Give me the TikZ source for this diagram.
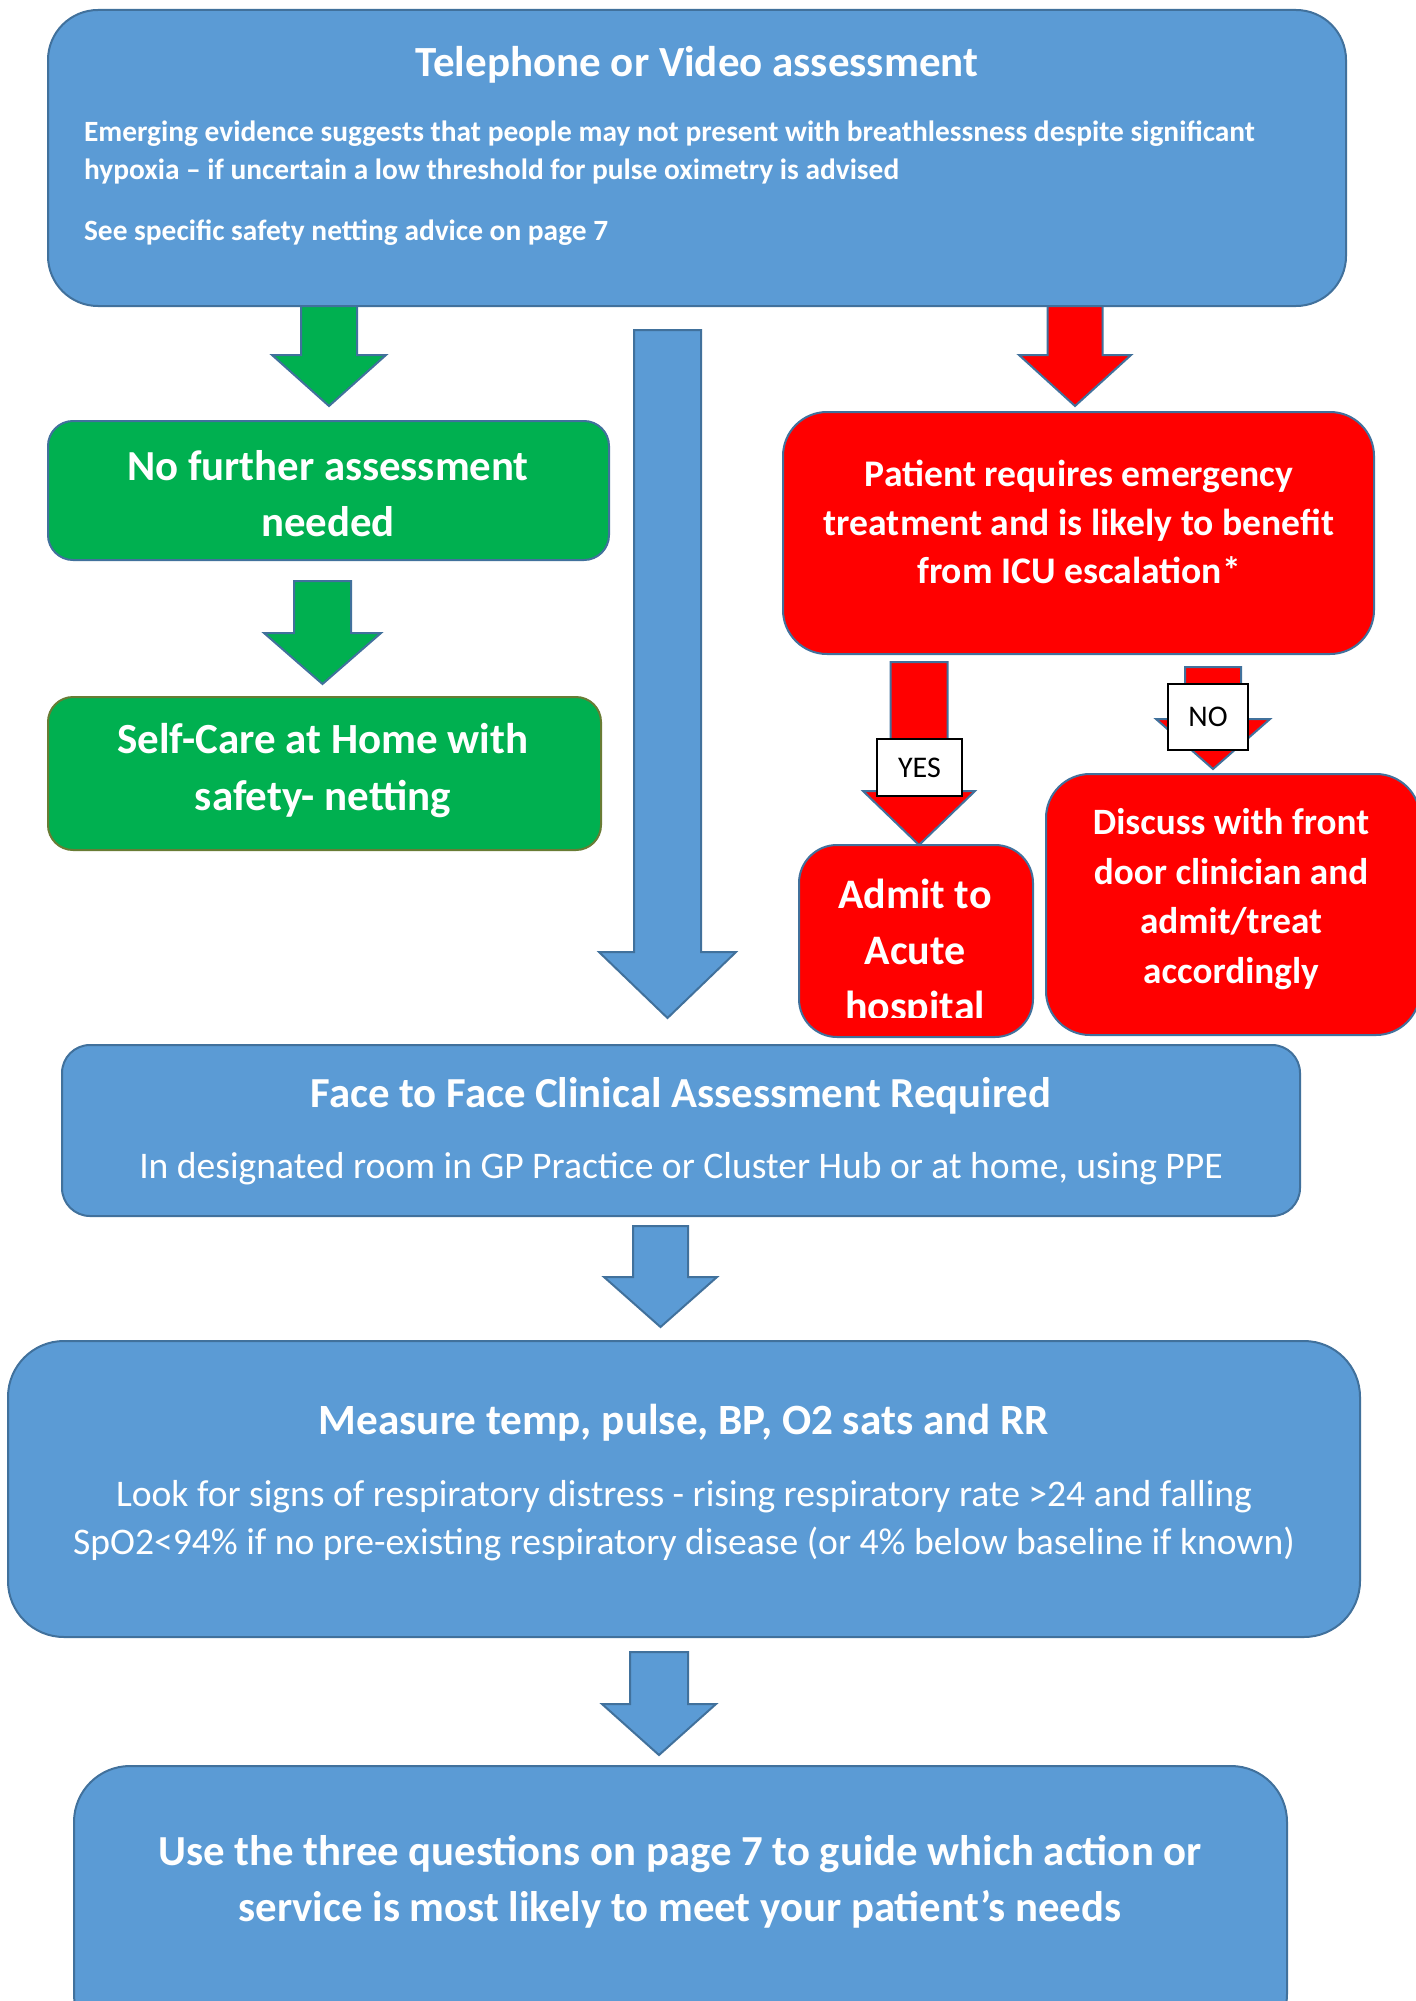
\documentclass[tikz,border=0pt]{standalone}
\usepackage{fontspec}
\setmainfont{Carlito}
\usetikzlibrary{positioning}
\definecolor{BoxBlue}{RGB}{91,155,213}
\definecolor{EdgeBlue}{RGB}{65,113,156}
\definecolor{BoxGreen}{RGB}{0,176,80}
\definecolor{BoxRed}{RGB}{255,0,0}
\definecolor{EdgeOlive}{RGB}{104,124,52}

\begin{document}
\begin{tikzpicture}[x=0.5pt,y=-0.5pt, every node/.style={align=center,text=white},
    box/.style={draw=EdgeBlue,line width=1pt,inner sep=0pt},
    barrow/.style={draw=EdgeBlue,line width=1pt,line join=miter},
    tag/.style={draw=black,fill=white,text=black,line width=0.7pt,inner sep=0pt,font=\fontsize{15}{18}\selectfont}]
  \clip (0,0) rectangle (1416,2001);
  \fill[white] (0,0) rectangle (1416,2001);

  % boxes
  \node[box,fill=BoxBlue,minimum width=649pt,minimum height=148pt,rounded corners=25pt] (tele) at (697,158) {};
  \node[box,fill=BoxGreen,minimum width=280.5pt,minimum height=69.5pt,rounded corners=12.5pt] (nofurther) at (328.5,490.5) {};
  \node[box,draw=EdgeOlive,fill=BoxGreen,minimum width=276.5pt,minimum height=76.5pt,rounded corners=12.5pt] (selfcare) at (324.5,773.5) {};
  \node[box,fill=BoxRed,minimum width=295.5pt,minimum height=121pt,rounded corners=22pt] (emerg) at (1078.5,533) {};
  \node[box,fill=BoxRed,minimum width=117pt,minimum height=96pt,rounded corners=19pt] (admit) at (916,941) {};
  \node[box,fill=BoxRed,minimum width=187pt,minimum height=130.5pt,rounded corners=22pt] (discuss) at (1233,904.5) {};
  \node[box,fill=BoxBlue,minimum width=619pt,minimum height=85.5pt,rounded corners=14pt] (facebox) at (681,1130.5) {};
  \node[box,fill=BoxBlue,minimum width=676pt,minimum height=148pt,rounded corners=28pt] (measure) at (684,1489) {};
  \node[box,fill=BoxBlue,minimum width=606.5pt,minimum height=142pt,rounded corners=28pt] (useq) at (680.5,1908) {};

  % texts
  \node[font=\fontsize{21.5}{25}\selectfont\bfseries] (teleT) at (697,65) {Telephone or Video assessment};
  \node[anchor=west,align=left,font=\fontsize{14.7}{19}\selectfont\bfseries] (teleB) at (77,152)
    {Emerging evidence suggests that people may not present with breathlessness despite significant\\
     hypoxia -- if uncertain a low threshold for pulse oximetry is advised};
  \node[anchor=west,font=\fontsize{14.7}{19}\selectfont\bfseries] (teleC) at (77,233) {See specific safety netting advice on page 7};
  \node[font=\fontsize{21.4}{28}\selectfont\bfseries] (nofurtherT) at (328,494) {No further assessment\\needed};
  \node[font=\fontsize{21.5}{28.5}\selectfont\bfseries] (selfcareT) at (323,770.5) {Self-Care at Home with\\safety- netting};
  \node[font=\fontsize{18.8}{24.2}\selectfont\bfseries] (emergT) at (1079,522)
    {Patient requires emergency\\treatment and is likely to benefit\\from ICU escalation*};
  \begin{scope}
    \clip (790,840) rectangle (1040,1017);
    \node[font=\fontsize{21}{28}\selectfont\bfseries] (admitT) at (915,953) {Admit to\\Acute\\hospital};
  \end{scope}
  \node[font=\fontsize{18.6}{24.7}\selectfont\bfseries] (discussT) at (1231,899)
    {Discuss with front\\door clinician and\\admit/treat\\accordingly};
  \node[font=\fontsize{21.4}{25}\selectfont\bfseries] (faceT) at (681,1096) {Face to Face Clinical Assessment Required};
  \node[font=\fontsize{18.8}{22}\selectfont] (faceS) at (681,1169) {In designated room in GP Practice or Cluster Hub or at home, using PPE};
  \node[font=\fontsize{21.6}{25}\selectfont\bfseries] (measureT) at (684,1423) {Measure temp, pulse, BP, O2 sats and RR};
  \node[font=\fontsize{18.8}{24}\selectfont] (measureS) at (684,1521)
    {Look for signs of respiratory distress - rising respiratory rate >24 and falling\\
     SpO2<94\% if no pre-existing respiratory disease (or 4\% below baseline if known)};
  \node[font=\fontsize{21.4}{28}\selectfont\bfseries] (useqT) at (680,1882)
    {Use the three questions on page 7 to guide which action or\\service is most likely to meet your patient’s needs};

  % block arrows
  \draw[barrow,fill=BoxGreen] (301,306) -- (357,306) -- (357,355) -- (386,355) -- (329,406) -- (272,355) -- (301,355) -- cycle;
  \draw[barrow,fill=BoxGreen] (294,581) -- (351,581) -- (351,633) -- (381,633) -- (322.5,684) -- (264,633) -- (294,633) -- cycle;
  \draw[barrow,fill=BoxBlue] (634,330) -- (701,330) -- (701,952) -- (736,952) -- (667.5,1018) -- (599,952) -- (634,952) -- cycle;
  \draw[barrow,fill=BoxRed] (1047.5,306) -- (1102.5,306) -- (1102.5,355) -- (1131,355) -- (1075,406) -- (1019,355) -- (1047.5,355) -- cycle;
  \draw[barrow,fill=BoxRed] (890.5,662) -- (947.5,662) -- (947.5,791) -- (975,791) -- (919,845) -- (863,791) -- (890.5,791) -- cycle;
  \draw[barrow,fill=BoxRed] (1185,667) -- (1241,667) -- (1241,719) -- (1270,719) -- (1213,769) -- (1156,719) -- (1185,719) -- cycle;
  \draw[barrow,fill=BoxBlue] (633,1226) -- (688,1226) -- (688,1277) -- (717,1277) -- (660.5,1327) -- (604,1277) -- (633,1277) -- cycle;
  \draw[barrow,fill=BoxBlue] (630,1652) -- (688,1652) -- (688,1704) -- (716,1704) -- (659,1755) -- (602,1704) -- (630,1704) -- cycle;

  % yes / no tags
  \node[tag,minimum width=42.5pt,minimum height=28.5pt] (yes) at (919.5,767.5) {YES};
  \node[tag,minimum width=40pt,minimum height=33pt] (no) at (1208,717) {NO};
\end{tikzpicture}
\end{document}
